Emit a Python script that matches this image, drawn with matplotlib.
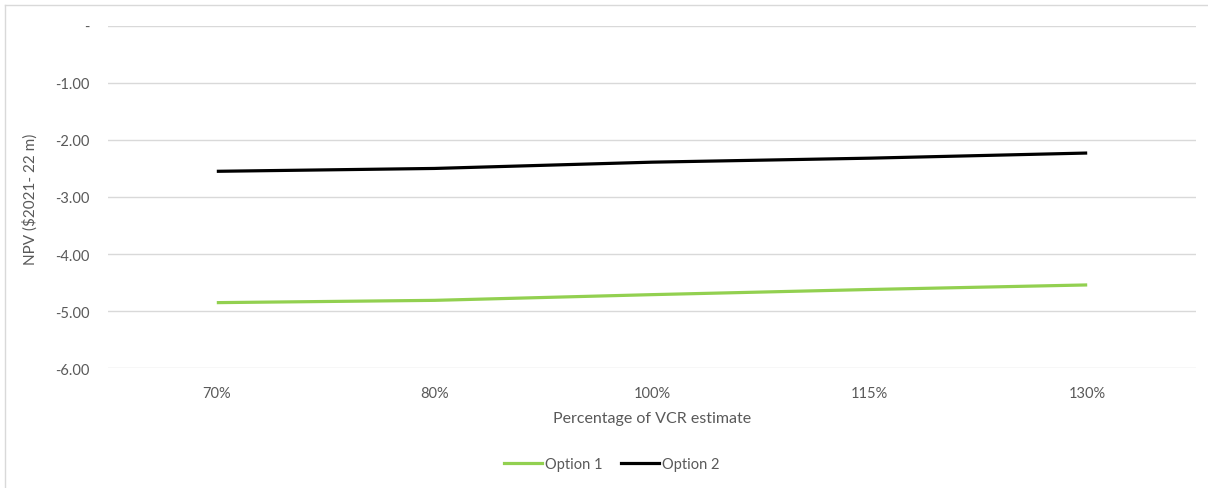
import matplotlib.pyplot as plt
from matplotlib.lines import Line2D

# NPV by percentage of VCR estimate
categories = ["70%", "80%", "100%", "115%", "130%"]
option_1 = [-4.85, -4.81, -4.71, -4.62, -4.54]
option_2 = [-2.55, -2.50, -2.39, -2.32, -2.23]
y_ticks = [0, -1, -2, -3, -4, -5, -6]
y_labels = ["-", "-1.00", "-2.00", "-3.00", "-4.00", "-5.00", "-6.00"]

text_gray = "#595959"
grid_gray = "#D9D9D9"
plt.rcParams["font.family"] = ["Lato", "DejaVu Sans"]

W, H = 1208, 489
fig = plt.figure(figsize=(W / 100, H / 100), dpi=100)
ax = fig.add_axes([108 / W, 1 - 369.3 / H, (1196 - 108) / W, (369.3 - 26.7) / H])

x = range(len(categories))
ax.plot(x, option_1, color="#92D050", lw=2.3, solid_capstyle="butt", label="Option 1", zorder=3)
ax.plot(x, option_2, color="black", lw=2.3, solid_capstyle="butt", label="Option 2", zorder=3)

ax.set_xlim(-0.5, len(categories) - 0.5)
ax.set_ylim(-6, 0)
ax.set_yticks(y_ticks)
ax.set_yticklabels(y_labels)
ax.set_xticks(list(x))
ax.set_xticklabels(categories)
ax.tick_params(length=0, colors=text_gray, labelsize=10.5)
ax.tick_params(axis="y", pad=13)
ax.tick_params(axis="x", pad=13)
ax.grid(axis="y", color=grid_gray, lw=1)
ax.set_axisbelow(True)
for s in ax.spines.values():
    s.set_visible(False)

ax.set_xlabel("Percentage of VCR estimate", color=text_gray, fontsize=11.5, labelpad=8)
fig.text(30 / W, 1 - 199 / H, "NPV ($2021- 22 m)", rotation=90, color=text_gray,
         fontsize=11, ha="center", va="center")

handles = [Line2D([], [], color="#92D050", lw=2.3), Line2D([], [], color="black", lw=2.3)]
fig.legend(handles, ["Option 1", "Option 2"], loc="center", bbox_to_anchor=(612 / W, 1 - 465.5 / H),
           ncol=2, frameon=False, fontsize=10.5, handlelength=2.6, handletextpad=0.2,
           columnspacing=1.3, labelcolor=text_gray)

# chart frame
fig.add_artist(Line2D([5 / W, 1], [1 - 6 / H, 1 - 6 / H], color=grid_gray, lw=1))
fig.add_artist(Line2D([5 / W, 5 / W], [0, 1 - 6 / H], color=grid_gray, lw=1))

fig.savefig("out.png", dpi=100)
